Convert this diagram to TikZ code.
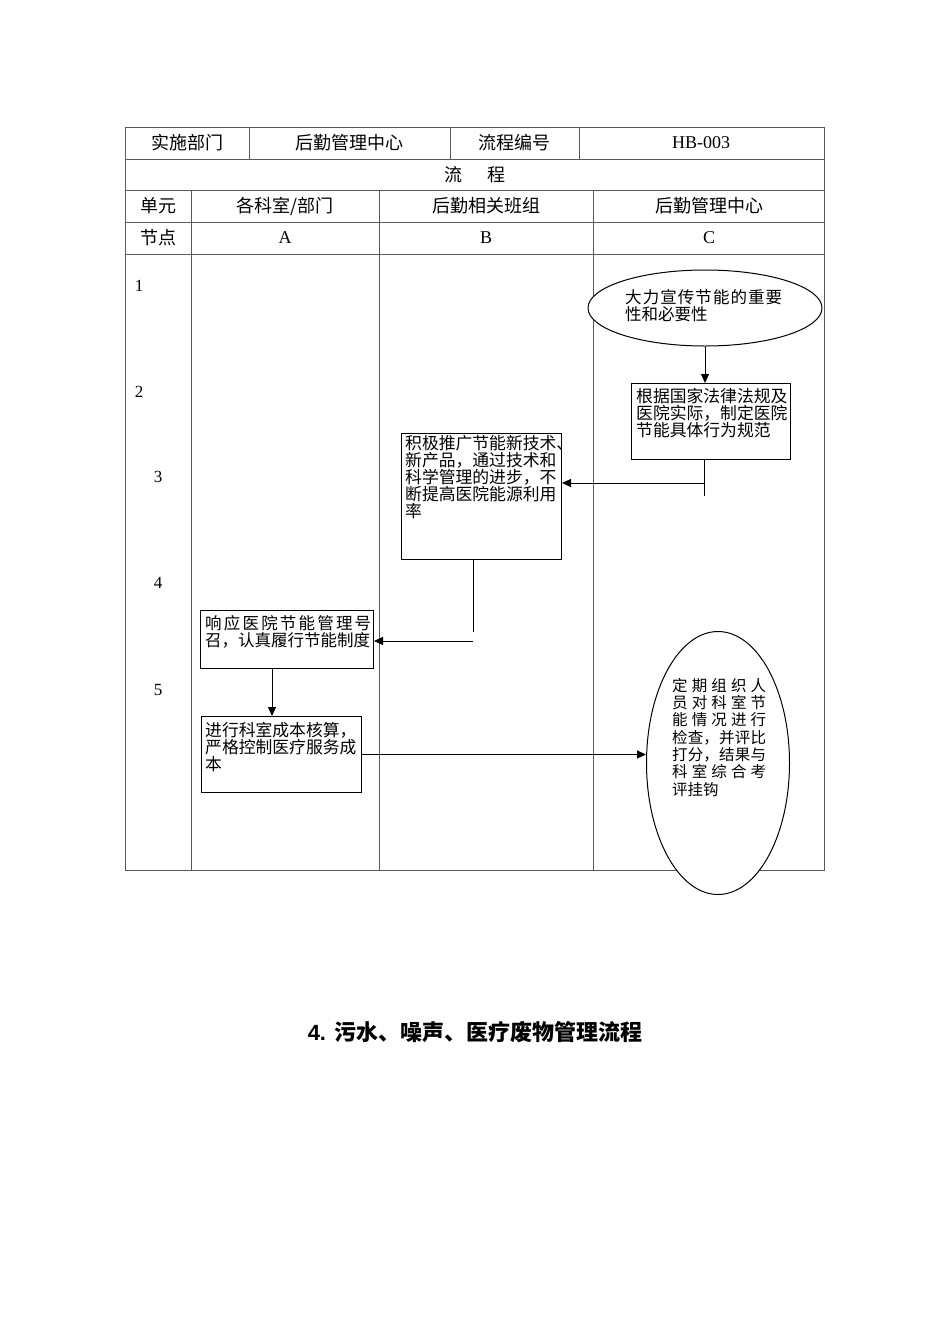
\documentclass[tikz,border=0pt]{standalone}
\usepackage{fontspec}
\setmainfont{Liberation Serif}
\newfontfamily\cjk{Noto Sans CJK SC}
\newfontfamily\titlesans{Liberation Sans}
\usetikzlibrary{shapes.geometric,arrows.meta,positioning,calc}
\definecolor{gridGray}{RGB}{90,90,90}
\newcommand\cjkspread{\XeTeXlinebreaklocale "zh"\XeTeXlinebreakskip=0pt plus 8pt\relax}

\begin{document}
\begin{tikzpicture}[x=1pt, y=-1pt,
  cell/.style={font=\cjk\fontsize{18}{18}\selectfont, inner sep=0pt},
  latin/.style={font=\fontsize{18}{18}\selectfont, inner sep=0pt},
  num/.style={font=\fontsize{17}{17}\selectfont, inner sep=0pt},
  stepbox/.style={draw, line width=1pt, inner sep=0pt, anchor=north west},
  oval/.style={draw, ellipse, line width=1pt, inner sep=0pt, fill=white},
  steptext/.style={anchor=north west, inner sep=0pt, align=left, font=\cjk\fontsize{16.8}{17}\selectfont},
  spreadtext/.style={anchor=north west, inner sep=0pt, align=justify, font=\cjk\fontsize{16.5}{17}\selectfont\cjkspread},
  flow/.style={-{Triangle[length=9pt,width=8pt]}, line width=1pt},
  link/.style={line width=1pt}]
  \useasboundingbox (0,0) rectangle (950,1344);
  % Table grid
  \draw[gridGray, line width=0.8pt] (125,127) rectangle (824,870);
  \foreach \y in {159,190,222,254} \draw[gridGray, line width=0.8pt] (125,\y) -- (824,\y);
  \foreach \x in {249,450,579} \draw[gridGray, line width=0.8pt] (\x,127) -- (\x,159);
  \foreach \x in {191,379,593} \draw[gridGray, line width=0.8pt] (\x,190) -- (\x,870);
  % Header cells
  \node[cell] (dept) at (187,143) {实施部门};
  \node[cell] (deptname) at (349,143) {后勤管理中心};
  \node[cell] (codelabel) at (514,143) {流程编号};
  \node[latin] (code) at (701,143) {HB-003};
  \node[cell] (flowhead) at (475,175) {流\hspace{26pt}程};
  \node[cell] (unit) at (158,206) {单元};
  \node[cell] (unitA) at (285,206) {各科室/部门};
  \node[cell] (unitB) at (486,206) {后勤相关班组};
  \node[cell] (unitC) at (709,206) {后勤管理中心};
  \node[cell] (pt) at (158,238) {节点};
  \node[latin] (colA) at (285,238) {A};
  \node[latin] (colB) at (486,238) {B};
  \node[latin] (colC) at (709,238) {C};
  % Node numbers
  \foreach \n/\x/\y in {1/139/286, 2/139/392, 3/158/477, 4/158/583, 5/158/690}
    \node[num] (n\n) at (\x,\y) {\n};
  % Column C
  \node[oval, minimum width=234, minimum height=76] (c1) at (705,308) {};
  \node[spreadtext, text width=157] (c1t) at (625,289) {大力宣传节能的重要\linebreak 性和必要性};
  \node[stepbox, minimum width=159, minimum height=76] (c2) at (631,383) {};
  \node[steptext] (c2t) at (636,388) {根据国家法律法规及\\医院实际，制定医院\\节能具体行为规范};
  % Column B
  \node[stepbox, minimum width=160, minimum height=126] (b1) at (401,433) {};
  \node[steptext] (b1t) at (405,435) {积极推广节能新技术、\\新产品，通过技术和\\科学管理的进步，不\\断提高医院能源利用\\率};
  % Column A
  \node[stepbox, minimum width=173, minimum height=58] (a1) at (200,610) {};
  \node[spreadtext, text width=166] (a1t) at (205,615) {响应医院节能管理号\linebreak 召，认真履行节能制度};
  \node[stepbox, minimum width=160, minimum height=76] (a2) at (201,716) {};
  \node[steptext] (a2t) at (205,722) {进行科室成本核算，\\严格控制医疗服务成\\本};
  % Check ellipse
  \node[oval, minimum width=143, minimum height=263] (c3) at (718,763) {};
  \node[spreadtext, text width=94, font=\cjk\fontsize{15.5}{17.3}\selectfont\cjkspread] (c3t) at (672,678)
    {定期组织人\linebreak 员对科室节\linebreak 能情况进行\linebreak 检查，并评比\linebreak 打分，结果与\linebreak 科室综合考\linebreak 评挂钩};
  % Arrows
  \coordinate (c2tail) at (704,496);
  \coordinate (c2turn) at (704,483);
  \coordinate (b1tail) at (473,632);
  \coordinate (b1turn) at (473,641);
  \coordinate (acol) at (272,0);
  \draw[flow] (c1.south) -- (c1.south |- c2.north);
  \draw[link] (c2.south -| c2tail) -- (c2tail);
  \draw[flow] (c2turn) -- (c2turn -| b1.east);
  \draw[link] (b1.south -| b1tail) -- (b1tail);
  \draw[flow] (b1turn) -- (b1turn -| a1.east);
  \draw[flow] (a1.south -| acol) -- (a2.north -| acol);
  \draw[flow] (a2.east) -- (a2.east -| c3.west);
  % Title
  \node[font=\titlesans\bfseries\fontsize{22}{22}\selectfont, inner sep=0pt] (title) at (475,1032)
    {4. {\cjk\bfseries 污水、噪声、医疗废物管理流程}};
\end{tikzpicture}
\end{document}
